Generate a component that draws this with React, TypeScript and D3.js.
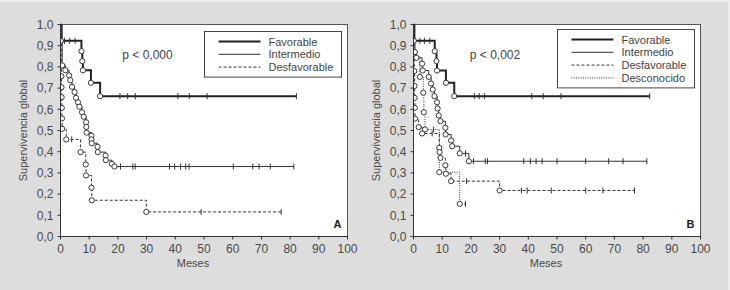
import React from 'react';
import * as d3 from 'd3';

type Pt = [number, number]; // [months, survival after the death]

// ---------- Panel A ----------
const favA: Pt[] = [[0.1, 0.923], [7.3, 0.874], [7.6, 0.827], [7.8, 0.784], [10.6, 0.725], [13.8, 0.662]];
const favACens: number[] = [1.4, 3.2, 5.1, 20.7, 23.4, 26.1, 40.9, 44.9, 51.1, 82.2];

const intA: Pt[] = [
  [0.6, 0.807], [1.7, 0.784], [3.0, 0.76], [3.4, 0.737], [4.0, 0.706], [4.9, 0.681], [5.4, 0.654],
  [6.1, 0.633], [6.6, 0.612], [7.5, 0.586], [8.1, 0.565], [8.9, 0.539], [9.0, 0.517], [9.1, 0.49],
  [10.8, 0.476], [10.8, 0.458], [10.9, 0.44], [12.9, 0.423], [13.0, 0.398], [15.7, 0.382],
  [15.8, 0.36], [17.9, 0.343], [18.8, 0.33],
];
const intACens: number[] = [20.9, 25.2, 26, 38, 39.8, 41.8, 43.6, 44.8, 60.2, 67, 69.2, 73.1, 81.3];

const desA: Pt[] = [
  [0.3, 0.756], [0.35, 0.704], [0.4, 0.657], [0.45, 0.607], [0.5, 0.557], [0.55, 0.508],
  [2.0, 0.458], [7.0, 0.398], [8.8, 0.34], [8.9, 0.288], [10.8, 0.23], [10.9, 0.171], [29.9, 0.116],
];
const desACens: number[] = [3.9, 49, 76.9];

// ---------- Panel B ----------
const favB: Pt[] = [[0.1, 0.923], [7.4, 0.874], [8.0, 0.827], [8.2, 0.783], [11.3, 0.725], [14.2, 0.662]];
const favBCens: number[] = [2.2, 3.8, 5.7, 21.2, 22.9, 24.7, 41.2, 45.2, 51.4, 82.3];

const intB: Pt[] = [
  [0.5, 0.87], [1.0, 0.843], [3.0, 0.815], [3.2, 0.783], [5.3, 0.753], [6.1, 0.722], [6.7, 0.693],
  [7.3, 0.662], [8.2, 0.633], [8.4, 0.604], [8.8, 0.571], [9.4, 0.544], [11.1, 0.513], [11.2, 0.481],
  [13.1, 0.453], [13.5, 0.426], [16.1, 0.392], [19.3, 0.355],
];
const intBCens: number[] = [18.1, 20.9, 25, 25.8, 38.4, 40.7, 42.7, 44.8, 50, 60, 68, 73, 81.3];

const desB: Pt[] = [
  [0.3, 0.78], [0.35, 0.71], [0.4, 0.654], [0.45, 0.607], [0.5, 0.556], [1.8, 0.516], [3.0, 0.486],
  [9.0, 0.418], [9.1, 0.398], [9.4, 0.371], [11.1, 0.336], [11.3, 0.296], [13.1, 0.261], [30, 0.217],
];
const desBCens: number[] = [6.5, 18.5, 37.6, 39.6, 48, 60, 66, 77];

const desconB: Pt[] = [[0.2, 0.85], [2.2, 0.753], [3.4, 0.678], [3.6, 0.586], [4.0, 0.505], [9.0, 0.303], [16.1, 0.154]];
const desconBCens: number[] = [7.0, 18.1];

// ---------- Axes / labels ----------
const xTickVals = [0, 10, 20, 30, 40, 50, 60, 70, 80, 90, 100];
const yTickVals = [0, 0.1, 0.2, 0.3, 0.4, 0.5, 0.6, 0.7, 0.8, 0.9, 1.0];
const legendA = ['Favorable', 'Intermedio', 'Desfavorable'];
const legendB = ['Favorable', 'Intermedio', 'Desfavorable', 'Desconocido'];

type Style = { width: number; dash?: string; color: string };
const styles: Record<string, Style> = {
  Favorable: { width: 2, color: '#222' },
  Intermedio: { width: 1, color: '#333' },
  Desfavorable: { width: 1, dash: '3,2', color: '#333' },
  Desconocido: { width: 1, dash: '1,1.3', color: '#333' },
};

type Series = { name: string; deaths: Pt[]; cens: number[] };

const FONT = '"Liberation Sans", Arial, Helvetica, sans-serif';
const W = 287;
const H = 212;

function survAt(deaths: Pt[], t: number) {
  let s = 1;
  for (const [dt, ds] of deaths) if (dt <= t) s = ds;
  return s;
}

function Panel({ id, left, top, series, legend, pText, pX, letter, legendY }: {
  id: string; left: number; top: number; series: Series[]; legend: string[]; pText: string; pX: number;
  letter: string; legendY: number;
}) {
  const x = d3.scaleLinear().domain([0, 100]).range([0, W]);
  const y = d3.scaleLinear().domain([0, 1]).range([H, 0]);
  const line = d3.line<Pt>().x(d => x(d[0])).y(d => y(d[1])).curve(d3.curveStepAfter);
  const fmt = (v: number) => d3.format('.1f')(v).replace('.', ',');
  const rowH = 12.8;
  const boxH = 10 + rowH * (legend.length - 1) + 10;

  return (
    <g transform={`translate(${left},${top})`}>
      <defs>
        <clipPath id={`clip-${id}`}>
          <rect x={0} y={-10} width={W + 6} height={H + 20} />
        </clipPath>
      </defs>
      <rect x={0} y={0} width={W} height={H} fill="#fff" stroke="#555" strokeWidth={1} />
      <g clipPath={`url(#clip-${id})`}>
        {series.map(s => {
          const st = styles[s.name];
          const end = Math.max(...s.cens, ...s.deaths.map(d => d[0]));
          const pts: Pt[] = [[0, 1], ...s.deaths, [end, s.deaths[s.deaths.length - 1][1]]];
          return (
            <g key={s.name}>
              <path d={line(pts) || ''} fill="none" stroke={st.color} strokeWidth={st.width}
                strokeDasharray={st.dash} />
              {s.cens.map((c, i) => {
                const yy = y(survAt(s.deaths, c));
                return <line key={i} x1={x(c)} x2={x(c)} y1={yy - 3} y2={yy + 3} stroke="#333" strokeWidth={1} />;
              })}
            </g>
          );
        })}
        {series.map(s => (
          <g key={s.name + 'c'}>
            {s.deaths.map((d, i) => (
              <circle key={i} cx={x(d[0])} cy={y(d[1])} r={2.6} fill="#fff" stroke="#222" strokeWidth={0.9} />
            ))}
          </g>
        ))}
      </g>
      {/* axes */}
      <line x1={0} x2={0} y1={0} y2={H} stroke="#333" strokeWidth={1} />
      <line x1={0} x2={W} y1={H} y2={H} stroke="#333" strokeWidth={1} />
      {yTickVals.map(v => (
        <g key={v}>
          <line x1={-3} x2={0} y1={y(v)} y2={y(v)} stroke="#333" />
          <text x={-7} y={y(v) + 4.3} textAnchor="end" fontSize={12} fill="#4a4a4a" fontFamily={FONT}>{fmt(v)}</text>
        </g>
      ))}
      {xTickVals.map(v => (
        <g key={v}>
          <line x1={x(v)} x2={x(v)} y1={H} y2={H + 3} stroke="#333" />
          <text x={x(v)} y={H + 16.5} textAnchor="middle" fontSize={12} fill="#4a4a4a" fontFamily={FONT}>{v}</text>
        </g>
      ))}
      <text x={132.5} y={H + 30} textAnchor="middle" fontSize={11} fill="#4a4a4a" fontFamily={FONT}>Meses</text>
      <text transform={`translate(-34,${H / 2}) rotate(-90)`} textAnchor="middle" fontSize={11} fill="#4a4a4a"
        fontFamily={FONT}>Supervivencia global</text>
      <text x={pX} y={34} textAnchor="middle" fontSize={12} fill="#444" fontFamily={FONT}>{pText}</text>
      <text x={W - 6} y={H - 9} textAnchor="end" fontSize={11} fontWeight="bold" fill="#222" fontFamily={FONT}>{letter}</text>
      {/* legend */}
      <g transform={`translate(144,${legendY})`}>
        <rect x={0} y={0} width={137} height={boxH} fill="#fff" stroke="#444" strokeWidth={1} />
        {legend.map((name, i) => {
          const st = styles[name];
          const cy = 10 + i * rowH;
          return (
            <g key={name}>
              <line x1={14} x2={56} y1={cy} y2={cy} stroke={st.color} strokeWidth={st.width} strokeDasharray={st.dash} />
              <text x={64} y={cy + 4} fontSize={11} fill="#444" fontFamily={FONT}>{name}</text>
            </g>
          );
        })}
      </g>
    </g>
  );
}

export default function App() {
  const seriesA: Series[] = [
    { name: 'Desfavorable', deaths: desA, cens: desACens },
    { name: 'Intermedio', deaths: intA, cens: intACens },
    { name: 'Favorable', deaths: favA, cens: favACens },
  ];
  const seriesB: Series[] = [
    { name: 'Desconocido', deaths: desconB, cens: desconBCens },
    { name: 'Desfavorable', deaths: desB, cens: desBCens },
    { name: 'Intermedio', deaths: intB, cens: intBCens },
    { name: 'Favorable', deaths: favB, cens: favBCens },
  ];
  return (
    <svg width={730} height={290} style={{ position: 'absolute', left: 0, top: 0 }}>
      <rect x={0} y={0} width={730} height={290} fill="#dddddd" />
      <rect x={0} y={0} width={730} height={2} fill="#ececec" />
      <rect x={728} y={0} width={2} height={290} fill="#ececec" />
      <Panel id="a" left={60.5} top={24.5} series={seriesA} legend={legendA} pText="p < 0,000" pX={87}
        letter="A" legendY={7} />
      <Panel id="b" left={413.5} top={24.5} series={seriesB} legend={legendB} pText="p < 0,002" pX={81.5}
        letter="B" legendY={5} />
    </svg>
  );
}
